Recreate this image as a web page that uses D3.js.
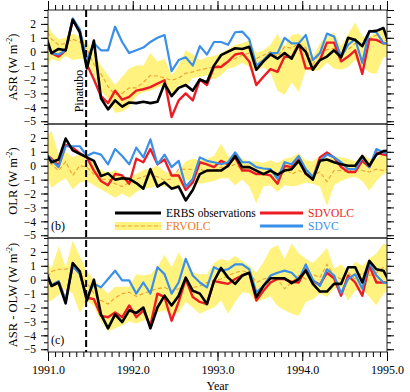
<!DOCTYPE html>
<html>
<head>
<meta charset="utf-8">
<script src="https://cdn.jsdelivr.net/npm/d3@7"></script>
<style>
  body { margin: 0; background: #fff; }
  text { font-family: "Liberation Serif", "Times New Roman", serif; }
</style>
</head>
<body>
<svg id="chart"></svg>
<script>
// monthly means, Dec 1990 .. Jan 1995 (50 values, mid-month)
const asrObs = [1.4, -0.1, 0.2, 0.1, 2.3, 1.4, -1.2, 0.8, -3.35, -4.15, -3.5, -3.95, -3.65, -3.7,
  -3.6, -3.7, -3.6, -2.3, -3.2, -2.6, -2.4, -2.8, -2.0, -2.2, -1.0, -0.25, 0.0, 0.25, 0.2, 0.35, -1.3, -0.7, -0.2,
  -0.5, -0.1, -0.5, 0.5, 0.0, -1.3, -0.6, -0.35, 0.1, -0.4, 1.0, 0.85, 0.4, 1.45, 1.5, 1.7, 0.2];
const asrSdvc = [1.0, -0.1, -0.2, 0.1, 2.4, 1.6, -0.6, 0.6, 0.1, 0.1, 1.8, 0.7, -0.1, 0.1,
  0.3, 0.7, 1.0, 1.2, -1.4, -0.6, -0.4, -1.0, 0.4, -0.2, 0.7, 0.7, 0.5, 1.4, 1.45, 0.9, -1.0, -0.6, -0.1,
  -0.1, 1.0, 0.6, 0.6, 1.2, -0.6, -0.1, 1.3, 1.1, -0.4, 0.5, 0.9, -0.8, 1.5, 1.4, 0.6, 0.6];
const asrSdvolc = [1.0, -0.1, -0.35, 0.1, 2.3, 1.5, -0.9, -2.0, -3.2, -3.7, -2.8, -3.45, -3.25, -2.8,
  -2.7, -2.55, -2.3, -2.05, -4.7, -3.5, -3.0, -3.5, -2.0, -2.4, -1.1, -1.1, -0.7, -0.2, -0.1, -0.7, -2.4, -1.8, -1.25,
  -1.45, -0.35, -0.4, 0.55, -1.2, -1.2, -0.6, 0.65, 0.65, -0.7, -0.35, 0.1, -1.6, 0.9, 0.85, 0.6, 0.6];
const asrFrvolc = [1.8, 0.9, 0.5, 0.6, 0.9, 0.7, 0.2, -0.9, -1.6, -2.5, -3.1, -3.0, -2.6, -2.6,
  -2.2, -1.7, -1.75, -1.9, -2.05, -1.9, -1.55, -1.45, -1.3, -1.2, -1.1, -0.95, -0.7, -0.5, -0.25, -0.1, -0.5, -0.25, 0.0,
  -0.35, 0.35, 0.25, 0.6, 0.3, -0.9, -0.1, 0.15, 0.25, -0.1, 0.15, 0.6, 0.35, 0.95, 1.2, 0.85, 0.7];
const asrHi = [2.6, 1.4, 0.9, 1.0, 1.3, 1.1, 0.8, -0.2, -1.0, -1.7, -2.4, -1.8, -1.2, -1.0,
  -1.0, -0.1, -0.7, -0.5, -1.7, -1.0, 0.1, -0.2, -0.6, -0.4, -0.3, -0.1, 0.2, 0.5, 0.6, 0.8, -0.1, 0.1, 0.5,
  1.3, 0.4, 1.2, 1.3, 0.8, -0.4, 0.6, 1.1, 1.4, 0.4, 1.3, 2.1, 1.1, 1.1, 1.4, 1.8, 1.1];
const asrLo = [-1.6, -0.5, -0.7, -0.3, -0.6, -0.5, -0.6, -1.7, -2.8, -3.4, -4.4, -4.3, -4.0, -3.2,
  -2.9, -2.8, -2.6, -2.4, -3.2, -2.4, -2.6, -1.9, -1.8, -1.7, -2.0, -1.7, -1.2, -1.1, -0.8, -1.1, -1.4, -1.1, -1.5,
  -2.8, -3.1, -2.2, -2.9, -1.3, -1.4, -1.3, -0.8, -1.2, -1.3, -1.1, -0.6, -1.0, -1.5, -1.6, -0.4, -0.3];

const olrObs = [1.0, 0.25, 0.45, 1.95, 1.1, 0.85, 0.6, 0.35, -0.75, -0.55, -1.0, -0.9, -0.95, -1.25,
  -1.65, -0.25, -1.5, -1.2, -1.65, -1.5, -2.5, -1.75, -0.6, -0.35, -0.35, -0.35, 0.0, 0.7, -0.1, -0.1, -0.35, -0.6, -0.35,
  -0.65, -0.35, -0.25, 0.35, -0.55, -1.0, 0.35, 0.45, 0.25, 0.1, 0.0, 0.0, 0.7, 0.0, 0.8, 1.05, 1.1];
const olrSdvc = [1.0, 0.4, -0.1, 1.4, 1.4, 1.4, 0.7, 0.95, 0.8, 0.1, 1.2, 0.7, 0.1, 1.3,
  0.6, 1.9, 0.1, 0.8, -0.1, 0.35, -1.5, -0.95, 0.6, 0.35, 0.25, 0.1, 0.25, 0.95, 0.25, 0.25, -0.1, -0.2, -0.25,
  -0.95, 0.25, 0.1, 0.7, -0.25, -0.8, 0.35, 0.8, 0.6, 0.25, -0.25, -0.25, 0.6, -0.1, 1.2, 0.95, 0.8];
const olrSdvolc = [0.9, 0.5, 0.0, 1.5, 1.3, 0.9, 0.6, -0.35, -1.1, -1.4, -0.6, -0.7, -1.3, 0.5,
  0.25, 1.2, 0.1, 0.45, -0.7, -0.7, -1.75, -1.2, 0.25, 0.1, -0.1, 0.35, 0.1, 0.6, -0.35, -0.35, -0.6, -0.6, -0.7,
  -1.3, 0.0, -0.1, 0.45, -0.6, -0.95, 0.6, 0.95, 0.6, -0.1, -0.45, -0.45, 0.35, -0.1, 0.95, 0.8, 0.7];
const olrFrvolc = [0.5, 0.1, -0.35, 0.3, -0.7, 0.0, -0.1, -0.6, -1.0, -0.95, -1.3, -1.5, -1.2, -0.95,
  -0.8, -0.6, -0.8, -1.05, -0.95, -0.25, -0.25, -0.25, -0.25, -0.45, -0.35, -0.1, -0.1, 0.1, -0.25, -0.35, -0.6, -0.6, -0.7,
  -0.8, -0.1, -0.6, -0.35, -0.6, -0.7, -0.45, -1.15, -0.35, -0.35, -0.45, -0.1, -0.35, -0.45, -0.25, -0.35, -0.1];
const olrHi = [2.0, 2.5, 0.8, 1.0, 0.6, 0.8, 0.5, 0.2, -0.3, -0.5, -0.3, -0.7, -0.9, -0.6,
  -0.3, -0.2, 0.0, -0.4, -0.6, -0.4, 0.3, 0.5, 0.4, 0.5, 0.7, 1.6, 0.7, 0.6, 0.5, 0.3, 0.3, 0.2, 0.4,
  0.2, 0.5, 0.6, 0.9, 0.4, 0.3, 0.7, 0.5, 0.7, 0.6, 0.5, 0.3, 0.8, 0.5, 0.5, 1.0, 0.7];
const olrLo = [-0.3, -1.6, -1.2, -0.9, -1.7, -1.2, -1.1, -1.4, -1.7, -2.0, -2.3, -2.0, -2.3, -1.9,
  -1.6, -1.6, -1.4, -1.5, -1.6, -1.6, -1.0, -1.1, -1.3, -1.2, -1.1, -0.9, -0.9, -1.4, -1.0, -1.5, -2.7, -1.5, -1.4,
  -1.9, -1.4, -1.5, -1.4, -1.2, -1.3, -1.5, -2.9, -1.4, -1.1, -0.9, -0.8, -1.1, -1.8, -1.1, -0.6, -0.4];

const netObs = [0.8, -0.45, -0.2, -1.7, 1.2, 0.6, -1.5, 0.0, -2.5, -3.5, -2.5, -3.05, -2.2, -2.4,
  -2.0, -3.5, -2.0, -1.15, -1.85, -1.15, 0.15, -0.8, -1.0, -1.75, -0.1, 0.85, 0.15, -0.3, 0.3, 0.5, -1.25, -0.45, 0.1,
  0.1, 0.1, -0.25, 0.05, 0.65, -0.3, -0.85, -0.85, -0.3, -0.3, 0.9, 0.9, -0.2, 1.35, 0.75, 0.65, -0.3];
const netSdvc = [0.8, -0.4, -0.1, -1.5, 1.0, 0.4, -1.25, -0.3, -0.55, 0.05, 0.65, -0.05, -0.05, -1.0,
  -0.2, -1.0, 0.9, 0.4, -1.0, -0.2, 1.5, 0.3, -0.2, -0.55, 0.9, 0.65, 0.75, 1.1, 1.1, 0.75, -0.9, -0.45, 0.3,
  0.5, 0.65, 0.5, 0.0, 1.1, 0.0, -0.45, 0.75, 0.3, -0.95, 0.05, 0.4, -0.65, 1.25, 0.3, -0.2, -0.3];
const netSdvolc = [0.8, -0.4, -0.15, -1.5, 1.0, 0.45, -1.3, -1.4, -2.6, -2.7, -2.35, -2.7, -1.85, -2.7,
  -2.2, -3.3, -1.0, -1.25, -2.95, -1.6, 0.05, -1.25, -1.6, -1.75, -0.1, -0.2, -0.3, 0.05, 0.3, 0.5, -1.5, -0.8, -0.2,
  0.05, 0.05, -0.15, -0.2, 0.75, -0.1, -0.35, 0.5, 0.1, -1.15, 0.3, -0.2, -1.15, 1.0, -0.2, -0.2, -0.2];
const netFrvolc = [-0.2, 0.6, 0.75, 0.75, 0.9, 0.5, -0.2, -1.0, -1.5, -1.75, -1.3, -1.0, -0.9, -1.2,
  -1.0, -0.8, -0.65, -0.55, -0.8, -0.65, -0.3, -0.55, -0.45, -0.2, -0.05, 0.05, 0.3, 0.5, 0.65, 0.5, -0.2, 0.05, 0.2,
  0.05, -0.65, -0.2, 0.3, 0.05, 0.4, 0.15, 1.1, 0.3, 0.05, 0.5, 0.05, 0.5, 0.3, 0.5, 0.9, 0.5];
const netHi = [1.6, 0.8, 2.4, 0.9, 2.8, 1.7, 0.6, 0.0, -0.5, -1.0, -0.5, -0.5, -0.5, 0.4,
  0.3, 0.4, 0.9, 1.8, 0.9, 1.95, 1.1, 0.5, 0.4, 0.4, 1.2, 1.5, 1.35, 1.7, 1.35, 1.0, 0.5, 1.25, 2.2,
  2.5, 1.5, 2.6, 1.9, 1.5, 1.2, 1.7, 2.3, 0.8, 1.1, 0.6, 1.3, 1.0, 1.5, 1.9, 2.6, 2.3];
const netLo = [-1.6, -1.5, -1.1, -0.7, -1.0, -2.4, -1.5, -1.9, -3.0, -3.7, -3.5, -3.3, -3.0, -3.15,
  -2.95, -2.8, -2.35, -2.2, -2.6, -2.35, -1.6, -2.0, -2.45, -2.2, -2.0, -1.5, -2.45, -1.6, -0.9, -1.0, -1.6, -1.4, -1.2,
  -1.9, -2.2, -2.45, -2.6, -1.6, -1.4, -1.0, -1.25, -0.65, -0.55, -1.5, -0.8, -0.65, -1.25, -1.85, -1.0, -0.65];

const yearTicks = [1991, 1992, 1993, 1994, 1995];
const pinatubo = 1991.45;

const time = d3.range(asrObs.length).map(k => 1991 + (k - 0.5) / 12);

const colObs = "#000000", colRed = "#ec1c24", colBlue = "#3a8fe8",
      colBand = "#fff27f", colDash = "#f0a030", colOrangeText = "#f07b18";

const width = 410, height = 392;
const left = 48, right = 387, top0 = 10, panelH = 114;

const svg = d3.select("#chart").attr("width", width).attr("height", height);

const x = d3.scaleLinear().domain([1991, 1995]).range([left, right]);

const panels = [
  {title: "ASR", obs: asrObs, red: asrSdvolc, blue: asrSdvc, dash: asrFrvolc, lo: asrLo, hi: asrHi, tag: null},
  {title: "OLR", obs: olrObs, red: olrSdvolc, blue: olrSdvc, dash: olrFrvolc, lo: olrLo, hi: olrHi, tag: "(b)"},
  {title: "ASR - OLW", obs: netObs, red: netSdvolc, blue: netSdvc, dash: netFrvolc, lo: netLo, hi: netHi, tag: "(c)"}
];

const defs = svg.append("defs");

panels.forEach((p, j) => {
  const pTop = top0 + j * panelH;
  const y = d3.scaleLinear().domain([-5.2, 3]).range([pTop + panelH, pTop]);
  const g = svg.append("g");

  defs.append("clipPath").attr("id", "clip" + j)
    .append("rect").attr("x", left).attr("y", pTop).attr("width", right - left).attr("height", panelH);

  const plot = g.append("g").attr("clip-path", `url(#clip${j})`);
  const idx = d3.range(time.length);

  // model spread
  plot.append("path")
    .datum(idx)
    .attr("fill", colBand)
    .attr("d", d3.area().x(i => x(time[i])).y0(i => y(p.lo[i])).y1(i => y(p.hi[i])));

  const line = arr => d3.line().x(i => x(time[i])).y(i => y(arr[i]))(idx);

  plot.append("path").attr("d", line(p.dash)).attr("fill", "none")
    .attr("stroke", colDash).attr("stroke-width", 1.1).attr("stroke-dasharray", "4,2.5");
  plot.append("path").attr("d", line(p.red)).attr("fill", "none")
    .attr("stroke", colRed).attr("stroke-width", 2.4).attr("stroke-linejoin", "round");
  plot.append("path").attr("d", line(p.blue)).attr("fill", "none")
    .attr("stroke", colBlue).attr("stroke-width", 2.2).attr("stroke-linejoin", "round");
  plot.append("path").attr("d", line(p.obs)).attr("fill", "none")
    .attr("stroke", colObs).attr("stroke-width", 2.6).attr("stroke-linejoin", "round");

  // y axes, left with labels, right ticks only
  const major = d3.range(-5, 3.01, 1), minor = d3.range(-5, 3.01, 0.5);
  const yl = g.append("g").attr("transform", `translate(${left},0)`);
  yl.call(d3.axisLeft(y).tickValues(minor).tickSize(4).tickFormat(""));
  yl.append("g").call(d3.axisLeft(y).tickValues(major.filter(v => v < 3)).tickSize(7).tickPadding(5).tickFormat(d3.format("d")));
  const yr = g.append("g").attr("transform", `translate(${right},0)`);
  yr.call(d3.axisRight(y).tickValues(minor).tickSize(4).tickFormat(""));
  yr.append("g").call(d3.axisRight(y).tickValues(major).tickSize(7).tickFormat(""));
  g.selectAll(".domain").remove();
  g.selectAll(".tick text").attr("font-size", 11.5).attr("fill", "#000")
    .style("font-family", "'Liberation Serif', serif");
  g.selectAll(".tick line").attr("stroke", "#000");

  // panel frame
  g.append("rect").attr("x", left).attr("y", pTop).attr("width", right - left).attr("height", panelH)
    .attr("fill", "none").attr("stroke", "#222").attr("stroke-width", 1);

  // y title
  const t = g.append("text")
    .attr("transform", `translate(17,${pTop + panelH / 2}) rotate(-90)`)
    .attr("text-anchor", "middle").attr("font-size", 12.5);
  t.append("tspan").text(p.title + " (W m");
  t.append("tspan").attr("dy", -5).attr("font-size", 8).text("-2");
  t.append("tspan").attr("dy", 5).text(")");

  if (p.tag) {
    g.append("text").attr("x", left + 3).attr("y", pTop + panelH - 8)
      .attr("font-size", 12).text(p.tag);
  }
});

// time axes
const months = d3.range(0, 49).map(m => 1991 + m / 12);
const xb = svg.append("g").attr("transform", `translate(0,${top0 + 3 * panelH})`);
xb.call(d3.axisBottom(x).tickValues(months).tickSize(5).tickFormat(""));
xb.append("g").call(d3.axisBottom(x).tickValues(yearTicks).tickSize(9).tickPadding(4).tickFormat(d3.format(".1f")));
const xt = svg.append("g").attr("transform", `translate(0,${top0})`);
xt.call(d3.axisTop(x).tickValues(months).tickSize(5).tickFormat(""));
xt.append("g").call(d3.axisTop(x).tickValues(yearTicks).tickSize(9).tickFormat(""));
svg.selectAll(".domain").remove();
xb.selectAll(".tick text").attr("font-size", 12).attr("fill", "#000")
  .style("font-family", "'Liberation Serif', serif");

svg.append("text").attr("x", (left + right) / 2).attr("y", 390)
  .attr("text-anchor", "middle").attr("font-size", 12).text("Year");

// eruption marker
svg.append("line")
  .attr("x1", x(pinatubo)).attr("x2", x(pinatubo))
  .attr("y1", top0).attr("y2", top0 + 3 * panelH)
  .attr("stroke", "#000").attr("stroke-width", 2).attr("stroke-dasharray", "7,3");
svg.append("text")
  .attr("transform", `translate(${x(pinatubo) - 3},91) rotate(-90)`)
  .attr("text-anchor", "middle").attr("font-size", 12).text("Pinatubo");

// legend (in panel b)
const lg = svg.append("g");
const row1 = 213, row2 = 226;
lg.append("line").attr("x1", 115).attr("x2", 161).attr("y1", row1).attr("y2", row1)
  .attr("stroke", colObs).attr("stroke-width", 3);
lg.append("text").attr("x", 166).attr("y", row1 + 4).attr("font-size", 11.5).text("ERBS observations");
lg.append("rect").attr("x", 115).attr("y", row2 - 4).attr("width", 46).attr("height", 8).attr("fill", colBand);
lg.append("line").attr("x1", 115).attr("x2", 161).attr("y1", row2).attr("y2", row2)
  .attr("stroke", colDash).attr("stroke-width", 1.1).attr("stroke-dasharray", "4,2.5");
lg.append("text").attr("x", 166).attr("y", row2 + 4).attr("font-size", 11.5).attr("fill", colOrangeText).text("FRVOLC");
lg.append("line").attr("x1", 260).attr("x2", 303).attr("y1", row1).attr("y2", row1)
  .attr("stroke", colRed).attr("stroke-width", 3);
lg.append("text").attr("x", 308).attr("y", row1 + 4).attr("font-size", 11.5).attr("fill", colRed).text("SDVOLC");
lg.append("line").attr("x1", 260).attr("x2", 303).attr("y1", row2).attr("y2", row2)
  .attr("stroke", colBlue).attr("stroke-width", 3);
lg.append("text").attr("x", 308).attr("y", row2 + 4).attr("font-size", 11.5).attr("fill", colBlue).text("SDVC");
</script>
</body>
</html>
